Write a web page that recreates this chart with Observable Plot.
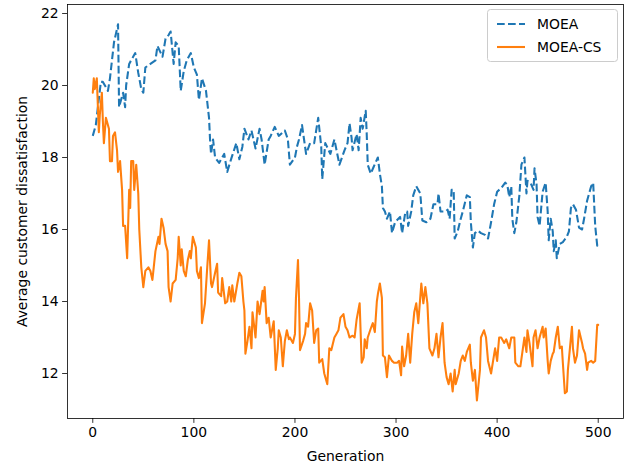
<!DOCTYPE html>
<html><head><meta charset="utf-8">
<script src="https://cdn.jsdelivr.net/npm/d3@7"></script>
<script src="https://cdn.jsdelivr.net/npm/@observablehq/plot@0.6"></script>
<style>body{margin:0;background:#fff}</style>
</head><body><div id="chart"></div>
<script>
const seriesNames = ["MOEA", "MOEA-CS"];
const seriesColors = ["#1f77b4", "#ff7f0e"];
const xTicks = [0, 100, 200, 300, 400, 500];
const yTicks = [12, 14, 16, 18, 20, 22];

const moeaGen = [0,3,8,10,15,17,21,25,26,30,32,33,36,38,42,45,48,50,52,57,62,64,69,72,75,77,80,82,85,87,90,93,97,100,103,105,108,112,113,115,116,117,119,121,125,130,133,137,142,145,148,150,154,157,161,165,167,170,174,176,180,184,190,193,195,200,202,204,207,209,211,215,219,223,226,227,230,235,239,244,249,252,254,256,257,261,263,265,267,270,271,272,275,278,282,284,286,287,289,291,294,296,299,304,306,309,311,312,315,317,320,324,326,330,334,337,341,342,344,349,351,353,355,357,358,361,364,366,370,373,374,376,378,381,384,388,391,394,397,400,404,408,410,412,414,415,417,419,422,424,427,429,430,433,436,437,439,440,442,445,448,450,451,453,455,456,458,459,462,465,469,471,473,475,478,481,484,486,489,493,495,497,499,500];
const moeaVal = [18.6,18.9,20.1,20.1,19.85,20.2,21.2,21.7,19.4,19.8,19.4,20.0,20.6,20.7,20.9,20.35,19.9,19.8,20.5,20.6,20.7,21.1,20.8,21.3,21.4,21.5,20.6,21.2,21.1,19.85,20.4,20.7,20.9,20.5,20.3,19.6,20.2,19.85,19.6,19.1,18.5,18.1,18.5,18.0,17.85,18.1,17.6,17.97,18.4,17.95,18.3,18.8,18.5,18.75,18.25,18.8,18.5,17.8,18.5,18.6,18.85,18.6,18.75,18.5,17.8,18.0,18.3,18.5,18.9,18.5,18.1,18.4,18.4,19.1,18.3,17.4,18.4,18.1,18.5,17.8,18.2,18.4,18.95,18.55,18.2,18.65,18.2,19.1,18.8,19.3,18.65,17.8,17.55,17.75,18.0,17.55,17.2,16.6,16.5,16.3,16.5,15.9,16.2,16.35,15.9,16.45,16.5,16.1,16.5,16.95,17.2,17.0,16.25,16.2,16.3,16.7,16.7,17.0,16.5,16.5,16.55,16.3,17.1,17.1,15.75,15.95,16.3,16.5,16.95,16.9,16.2,15.5,15.9,15.97,15.9,15.85,15.75,16.2,16.7,17.05,17.15,17.3,17.25,16.9,17.2,16.3,15.9,16.2,16.95,17.8,18.0,17.0,17.35,17.3,17.1,17.7,17.25,16.35,16.1,17.05,17.3,16.5,15.7,16.3,15.95,15.4,15.7,15.2,15.6,15.65,15.8,15.95,16.6,16.7,16.55,16.05,16.0,16.3,16.8,17.2,17.3,16.1,15.55,15.6];

const csGen = [0,1,2,4,6,7,9,10,11,13,16,17,19,20,22,24,25,27,29,30,32,34,36,37,38,40,41,43,45,46,48,50,52,55,57,59,62,65,66,68,70,72,74,75,77,79,82,84,85,87,88,90,92,94,96,97,99,102,103,105,107,108,111,113,115,117,118,121,123,124,127,128,131,133,135,137,138,140,143,145,147,149,150,151,153,155,157,158,161,163,165,168,169,170,172,174,176,179,181,183,184,186,188,190,192,194,195,198,200,201,203,204,205,208,210,211,213,215,217,219,221,223,224,227,229,232,234,236,239,241,243,245,248,250,252,254,257,259,261,264,266,268,269,271,272,275,277,279,281,282,284,286,287,289,291,293,296,298,301,303,305,306,308,310,312,314,316,318,320,322,325,327,329,331,333,336,338,340,342,344,346,348,350,352,354,356,358,359,362,364,366,368,370,373,374,376,378,380,383,384,387,389,391,394,396,398,400,402,404,407,409,412,414,417,418,421,423,425,427,429,430,432,435,436,438,440,442,445,446,448,450,451,453,455,456,458,460,462,464,465,467,469,470,472,474,475,477,479,481,484,485,487,489,490,493,495,497,499,500];
const csVal = [19.8,20.2,19.9,20.2,18.7,19.2,19.8,19.0,18.4,19.1,18.8,17.9,17.9,18.6,18.7,18.2,17.6,17.9,17.1,16.1,16.1,15.2,17.1,16.6,17.9,17.9,17.1,17.8,17.0,16.0,14.95,14.4,14.85,14.95,14.85,14.6,15.4,15.8,15.6,16.3,16.05,15.6,15.4,14.4,14.0,14.5,14.6,15.2,15.8,15.0,15.45,14.85,14.7,15.15,15.4,15.2,15.8,15.5,14.85,14.65,14.95,13.4,13.95,14.85,15.7,14.5,14.4,14.8,15.05,14.25,14.15,14.65,13.95,14.0,14.4,14.0,14.45,14.0,14.5,14.8,14.7,14.0,13.75,12.55,12.9,13.3,12.7,13.7,13.0,14.0,13.65,14.3,14.0,14.4,13.4,13.55,13.0,13.45,12.1,12.7,13.2,13.0,12.2,12.9,13.2,12.95,13.0,12.85,13.1,14.1,15.15,14.1,12.65,12.9,13.1,13.4,13.3,13.95,13.75,12.85,13.2,13.25,12.3,12.4,12.0,11.7,12.7,12.65,13.0,13.1,13.2,13.55,13.65,13.3,13.2,13.0,13.05,13.0,13.5,13.95,12.3,12.45,12.95,12.7,13.0,13.25,13.4,13.15,14.0,14.2,14.5,14.1,12.5,12.45,11.9,12.5,12.35,12.3,12.3,12.35,11.95,12.75,12.2,12.5,13.1,12.3,13.1,13.7,13.95,13.4,14.5,13.95,14.4,13.95,12.7,12.5,12.7,13.1,12.45,13.0,13.4,12.3,11.9,11.7,12.0,11.5,12.1,11.7,12.0,12.35,12.5,12.35,12.6,12.8,12.3,11.8,12.1,11.25,12.1,13.0,13.2,13.0,12.35,12.0,12.35,12.7,12.35,13.0,13.0,12.85,12.95,12.7,13.0,13.0,12.3,12.2,12.2,12.6,13.0,12.6,13.2,12.85,12.2,13.0,13.2,12.7,13.0,13.3,13.0,13.25,12.35,12.0,12.35,12.55,12.6,13.0,13.3,12.7,12.75,12.3,11.45,11.5,12.1,12.7,13.3,12.7,12.3,12.5,13.2,12.85,12.7,12.55,12.1,12.3,12.35,12.3,12.35,13.35,13.35];

const moea = moeaGen.map((g, i) => ({gen: g, val: moeaVal[i]}));
const cs = csGen.map((g, i) => ({gen: g, val: csVal[i]}));

const fontSize = 13.9;
const chart = Plot.plot({
  width: 632,
  height: 471,
  marginLeft: 67,
  marginRight: 9,
  marginTop: 4,
  marginBottom: 53,
  style: {fontFamily: "DejaVu Sans", fontSize: fontSize + "px", color: "black", background: "white", overflow: "visible"},
  x: {domain: [-25, 525]},
  y: {domain: [10.75, 22.25]},
  marks: [
    Plot.line(moea, {x: "gen", y: "val", stroke: seriesColors[0], strokeWidth: 2.08, strokeDasharray: "7.7,3.3", strokeLinejoin: "round", strokeLinecap: "butt"}),
    Plot.line(cs, {x: "gen", y: "val", stroke: seriesColors[1], strokeWidth: 2.08, strokeLinejoin: "round"}),
    Plot.frame({stroke: "black", strokeWidth: 0.8}),
    Plot.axisX({ticks: xTicks, tickSize: 4.9, tickPadding: 4, strokeWidth: 0.8, label: "Generation", labelAnchor: "center", labelArrow: "none", labelOffset: 42, fill: "black"}),
    Plot.axisY({ticks: yTicks, tickSize: 4.9, tickPadding: 4, strokeWidth: 0.8, label: "Average customer dissatisfaction", labelAnchor: "center", labelArrow: "none", labelOffset: 50, fill: "black"})
  ]
});
document.getElementById("chart").appendChild(chart);

// legend (matplotlib-style, upper right)
const svg = d3.select(chart);
const lg = svg.append("g").attr("font-family", "DejaVu Sans").attr("font-size", fontSize).attr("text-anchor", "start");
lg.append("rect").attr("x", 487.5).attr("y", 9.5).attr("width", 130).attr("height", 52).attr("rx", 3)
  .attr("fill", "white").attr("fill-opacity", 0.8).attr("stroke", "#cccccc").attr("stroke-width", 1);
seriesNames.forEach((name, i) => {
  const cy = 24 + i * 23;
  lg.append("line").attr("x1", 497).attr("x2", 525).attr("y1", cy).attr("y2", cy)
    .attr("stroke", seriesColors[i]).attr("stroke-width", 2.08)
    .attr("stroke-dasharray", i === 0 ? "7.7,3.3" : null);
  lg.append("text").attr("x", 537).attr("y", cy + 5).attr("fill", "#000")
    .attr("text-anchor", "start").style("text-anchor", "start").text(name);
});
</script>
</body></html>
